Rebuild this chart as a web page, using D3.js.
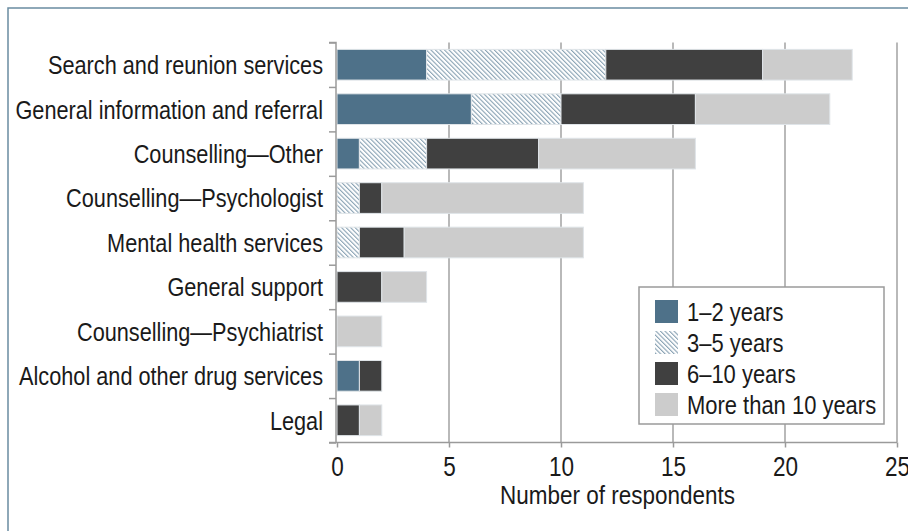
<!DOCTYPE html>
<html>
<head>
<meta charset="utf-8">
<script src="https://cdn.jsdelivr.net/npm/d3@7"></script>
<style>
  html, body { margin: 0; padding: 0; background: #fff; }
  svg { display: block; }
  text { font-family: 'Liberation Sans', Arial, 'Noto Sans', sans-serif; fill: #1a1a1a; }
</style>
</head>
<body>
<svg id="chart" width="908" height="531"></svg>
<script>
const categories = [
  "Search and reunion services",
  "General information and referral",
  "Counselling\u2014Other",
  "Counselling\u2014Psychologist",
  "Mental health services",
  "General support",
  "Counselling\u2014Psychiatrist",
  "Alcohol and other drug services",
  "Legal"
];
const seriesNames = ["1\u20132 years", "3\u20135 years", "6\u201310 years", "More than 10 years"];
const years1to2  = [4, 6, 1, 0, 0, 0, 0, 1, 0];
const years3to5  = [8, 4, 3, 1, 1, 0, 0, 0, 0];
const years6to10 = [7, 6, 5, 1, 2, 2, 0, 1, 1];
const yearsOver10 = [4, 6, 7, 9, 8, 2, 2, 0, 1];
const xTicks = [0, 5, 10, 15, 20, 25];
const xTitle = "Number of respondents";

(function () {
const seriesValues = [years1to2, years3to5, years6to10, yearsOver10];
const fills = ["#4e7189", "url(#hatch)", "#404040", "#cccccc"];
const narrow = 0.835; // condensed look of the original typeface
const fontFam = "'Liberation Sans', Arial, 'Noto Sans', sans-serif";

const svg = d3.select("#chart");
const defs = svg.append("defs");
const pat = defs.append("pattern")
  .attr("id", "hatch")
  .attr("patternUnits", "userSpaceOnUse")
  .attr("width", 3.2).attr("height", 3.2)
  .attr("patternTransform", "rotate(-45)");
pat.append("rect").attr("width", 3.2).attr("height", 3.2).attr("fill", "#ffffff");
pat.append("line").attr("x1", 0.6).attr("y1", 0).attr("x2", 0.6).attr("y2", 3.2)
  .attr("stroke", "#6f8ea3").attr("stroke-width", 0.9);

// outer frame
svg.append("rect").attr("x", 8).attr("y", 8).attr("width", 1200).attr("height", 1200)
  .attr("fill", "none").attr("stroke", "#6a8ca1").attr("stroke-width", 1.5);

const pLeft = 336, pRight = 897, pTop = 42.5, pBottom = 442.5;

const table = categories.map((c, i) => {
  const o = { category: c };
  seriesNames.forEach((s, j) => { o[s] = seriesValues[j][i]; });
  return o;
});
const stacked = d3.stack().keys(seriesNames)(table);

const x = d3.scaleLinear().domain([0, 25]).range([pLeft + 1, pRight]);
const y = d3.scaleBand().domain(categories).range([pTop, pBottom]).paddingInner(0.31).paddingOuter(0.155);
const yStep = d3.scaleLinear().domain([0, categories.length]).range([pTop, pBottom]);

// gridlines
svg.append("g").selectAll("line").data(xTicks.filter(d => d > 0)).join("line")
  .attr("x1", d => x(d)).attr("x2", d => x(d))
  .attr("y1", pTop).attr("y2", pBottom)
  .attr("stroke", "#8a8a8a").attr("stroke-width", 1.2);

// bars
const layer = svg.append("g").selectAll("g").data(stacked).join("g")
  .attr("fill", (d, i) => fills[i]);
layer.selectAll("rect").data(d => d.filter(s => s[1] - s[0] > 0)).join("rect")
  .attr("x", d => x(d[0]))
  .attr("y", d => y(d.data.category))
  .attr("width", d => x(d[1]) - x(d[0]))
  .attr("height", y.bandwidth())
  .attr("stroke", "#dfe4e8").attr("stroke-width", 1);

// y axis (ticks at band boundaries)
const yAxis = d3.axisLeft(yStep).tickValues(d3.range(0, categories.length + 1)).tickSize(7).tickFormat("");
const gy = svg.append("g").attr("transform", `translate(${pLeft},0)`).call(yAxis);
gy.selectAll("path, line").attr("stroke", "#9a9a9a").attr("stroke-width", 1.5);
gy.select(".domain").attr("d", `M-7,${pTop}H0V${pBottom}`);

// category labels
svg.append("g").selectAll("text").data(categories).join("text")
  .attr("transform", d => `translate(${pLeft - 13},${y(d) + y.bandwidth() / 2}) scale(${narrow},1)`)
  .attr("dy", "0.36em")
  .attr("text-anchor", "end")
  .attr("font-size", 26)
  .text(d => d);

// x axis
const xAxis = d3.axisBottom(x).tickValues(xTicks).tickSize(5).tickSizeOuter(0).tickPadding(9);
const gx = svg.append("g").attr("transform", `translate(0,${pBottom})`).call(xAxis);
gx.select(".domain").attr("d", `M${pLeft - 7},0H${pRight}`).attr("stroke", "#9a9a9a").attr("stroke-width", 1.5);
gx.selectAll(".tick line").attr("stroke", "#9a9a9a").attr("stroke-width", 1.5);
gx.selectAll(".tick text").attr("font-size", 27).attr("fill", "#1a1a1a")
  .attr("transform", `scale(${narrow},1)`)
  .style("font-family", fontFam);

svg.append("text")
  .attr("transform", `translate(${(pLeft + pRight) / 2 + 1},504) scale(0.865,1)`)
  .attr("text-anchor", "middle")
  .attr("font-size", 26)
  .text(xTitle);

// legend
const lg = svg.append("g");
lg.append("rect").attr("x", 639).attr("y", 287).attr("width", 245).attr("height", 137)
  .attr("fill", "#ffffff").attr("stroke", "#9a9a9a").attr("stroke-width", 1.5);
const items = lg.selectAll("g.item").data(seriesNames).join("g").attr("class", "item")
  .attr("transform", (d, i) => `translate(655,${300 + i * 31})`);
items.append("rect").attr("width", 23).attr("height", 23)
  .attr("fill", (d, i) => fills[i]);
items.append("text")
  .attr("transform", `translate(32,11.5) scale(0.845,1)`)
  .attr("dy", "0.36em")
  .attr("font-size", 26).text(d => d);
})();
</script>
</body>
</html>
